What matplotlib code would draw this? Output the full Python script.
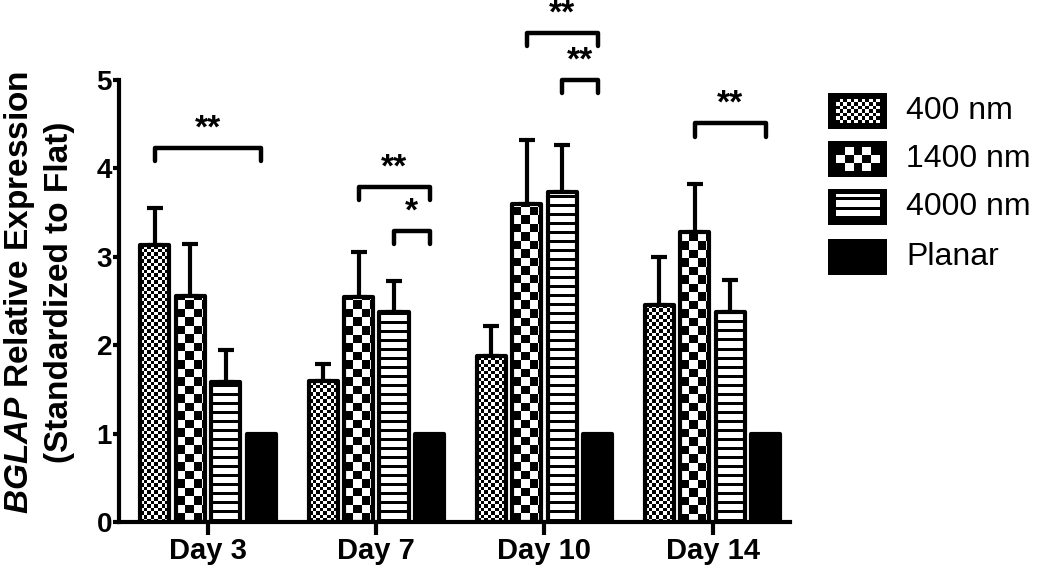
import numpy as np
import matplotlib
matplotlib.use("Agg")
import matplotlib.pyplot as plt

plt.rcParams['font.family'] = ['Liberation Sans', 'DejaVu Sans']
plt.rcParams['mathtext.fontset'] = 'custom'
plt.rcParams['mathtext.bfit'] = 'Liberation Sans:italic:bold'
plt.rcParams['mathtext.rm'] = 'Liberation Sans:bold'

# datos
dias = ['Day 3', 'Day 7', 'Day 10', 'Day 14']
series = ['400 nm', '1400 nm', '4000 nm', 'Planar']
v400 = [3.13, 1.60, 1.88, 2.45]
e400 = [0.42, 0.19, 0.34, 0.55]
v1400 = [2.56, 2.55, 3.60, 3.28]
e1400 = [0.59, 0.50, 0.72, 0.54]
v4000 = [1.58, 2.37, 3.73, 2.38]
e4000 = [0.37, 0.36, 0.54, 0.36]
vplanar = [1.0, 1.0, 1.0, 1.0]

# comparaciones: (dia, serie desde, serie hasta, altura, texto)
sig_dia = [0, 1, 1, 2, 2, 3]
sig_desde = [0, 1, 2, 1, 2, 1]
sig_hasta = [3, 3, 3, 3, 3, 3]
sig_altura = [4.23, 3.79, 3.29, 5.53, 5.00, 4.51]
sig_texto = ['**', '**', '*', '**', '**', '**']

valores = [v400, v1400, v4000, vplanar]
errores = [e400, e1400, e4000, None]
patrones = ['checker_small', 'checker_big', 'stripes', 'solid']

W, H = 1050, 580
fig = plt.figure(figsize=(W / 100, H / 100), dpi=100)
ax_l, ax_r, ax_t, ax_b = 119, 790, 80, 522
ax = fig.add_axes([ax_l / W, 1 - ax_b / H, (ax_r - ax_l) / W, (ax_b - ax_t) / H])
xlim = (-0.53, 3.46)
ylim = (0, 5)
px_x = (ax_r - ax_l) / (xlim[1] - xlim[0])
px_y = (ax_b - ax_t) / (ylim[1] - ylim[0])

paso = 0.211
ancho = 0.173


def patron(tipo, nx, ny):
    ii, jj = np.indices((ny, nx))
    if tipo.startswith('checker'):
        return (ii + jj) % 2
    if tipo == 'stripes':
        return (ii % 3 != 0).astype(int)
    return np.zeros((ny, nx))


celda = {'checker_small': 3.5, 'checker_big': 8.5, 'stripes': 3.0, 'solid': 4.0}

x = np.arange(len(dias))
for k, (vals, tipo) in enumerate(zip(valores, patrones)):
    xs = x + (k - 1.5) * paso
    barras = ax.bar(xs, vals, ancho, facecolor='none', edgecolor='black',
                    linewidth=3, zorder=3, joinstyle='round')
    for b in barras:
        x0, y0 = b.get_x(), 0
        x1, y1 = x0 + b.get_width(), b.get_height()
        sx, sy = celda[tipo] / px_x, celda[tipo] / px_y
        nx = int(np.ceil((x1 - x0) / sx)) + 1
        ny = int(np.ceil((y1 - y0) / sy)) + 1
        img = patron(tipo, nx, ny)
        im = ax.imshow(img, cmap='gray', vmin=0, vmax=1, origin='lower',
                       extent=(x0, x0 + nx * sx, y0, y0 + ny * sy),
                       interpolation='nearest', aspect='auto', zorder=2)
        im.set_clip_path(b)
    if errores[k] is not None:
        ax.errorbar(xs, vals, yerr=[np.zeros(len(vals)), errores[k]], fmt='none',
                    ecolor='black', elinewidth=3, capsize=5.8, capthick=3, zorder=1)

# corchetes de significancia
caida = 0.15
for d, a, b, h, t in zip(sig_dia, sig_desde, sig_hasta, sig_altura, sig_texto):
    xa = d + (a - 1.5) * paso
    xb = d + (b - 1.5) * paso
    ax.plot([xa, xa, xb, xb], [h - caida, h, h, h - caida], color='black', lw=3.2,
            solid_capstyle='round', solid_joinstyle='round', clip_on=False, zorder=4)
    ax.text((xa + xb) / 2, h + 0.04, t, ha='center', va='bottom', fontsize=24,
            fontweight='bold', clip_on=False)

ax.set_xlim(*xlim)
ax.set_ylim(*ylim)
ax.set_xticks(x)
ax.set_xticklabels(dias, fontsize=21, fontweight='bold')
ax.set_yticks(range(6))
ax.set_yticklabels([str(i) for i in range(6)], fontsize=20, fontweight='bold')
for s in ['top', 'right']:
    ax.spines[s].set_visible(False)
for s in ['left', 'bottom']:
    ax.spines[s].set_linewidth(3)
ax.tick_params(axis='x', width=3, length=9, direction='out', pad=2)
ax.tick_params(axis='y', width=3, length=4, direction='out', pad=1)

yc_label = 1 - 292 / H
fig.text(20 / W, yc_label, r'$\mathbfit{BGLAP}$ Relative Expression',
         rotation=90, ha='center', va='center', fontsize=24, fontweight='bold')
fig.text(60 / W, yc_label, '(Standardized to Flat)',
         rotation=90, ha='center', va='center', fontsize=24, fontweight='bold')

# leyenda dibujada a mano
centros_y = [111, 159, 207, 257]
sw_x, sw_w, sw_h = 828, 59, 36
mx, my = 8, 6
for tipo, nombre, yc in zip(patrones, series, centros_y):
    axs = fig.add_axes([sw_x / W, 1 - (yc + sw_h / 2) / H, sw_w / W, sw_h / H])
    axs.set_facecolor('black')
    c = celda[tipo]
    iw, ih = sw_w - 2 * mx, sw_h - 2 * my
    nx = int(round(iw / c))
    ny = int(round(ih / c))
    axs.imshow(patron(tipo, nx, ny), cmap='gray', vmin=0, vmax=1, origin='lower',
               extent=(mx / sw_w, 1 - mx / sw_w, my / sw_h, 1 - my / sw_h),
               interpolation='nearest', aspect='auto')
    axs.set_xlim(0, 1)
    axs.set_ylim(0, 1)
    axs.set_xticks([])
    axs.set_yticks([])
    for s in axs.spines.values():
        s.set_visible(False)
    fig.text(906 / W, 1 - yc / H, nombre, ha='left', va='center', fontsize=23)

fig.savefig('out.png', dpi=100)
